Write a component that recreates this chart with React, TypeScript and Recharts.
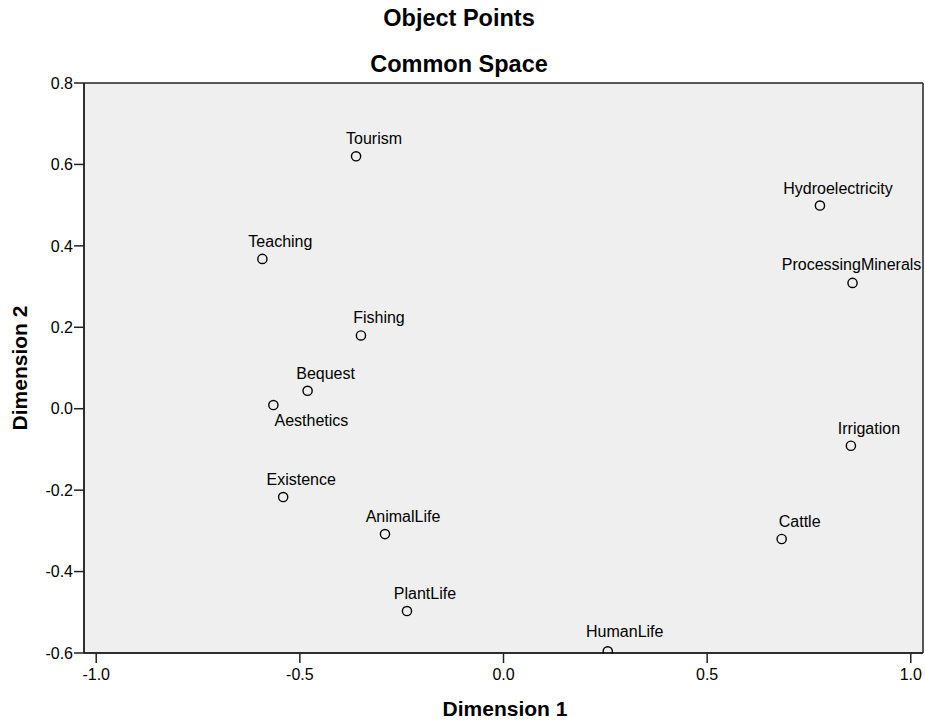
import { ScatterChart, Scatter, XAxis, YAxis, CartesianGrid } from 'recharts'

// object point coordinates in the common space
const objects = [
  'Tourism', 'Hydroelectricity', 'Teaching', 'ProcessingMinerals', 'Fishing',
  'Bequest', 'Aesthetics', 'Irrigation', 'Existence', 'AnimalLife',
  'Cattle', 'PlantLife', 'HumanLife',
]
const dimension1 = [
  -0.362, 0.777, -0.592, 0.857, -0.350,
  -0.481, -0.565, 0.853, -0.541, -0.291,
  0.683, -0.237, 0.256,
]
const dimension2 = [
  0.620, 0.499, 0.368, 0.309, 0.180,
  0.044, 0.009, -0.091, -0.217, -0.308,
  -0.320, -0.497, -0.596,
]
const xTicks = [-1.0, -0.5, 0.0, 0.5, 1.0]
const yTicks = [-0.6, -0.4, -0.2, 0.0, 0.2, 0.4, 0.6, 0.8]

const xDomain: [number, number] = [-1.03, 1.03]
const yDomain: [number, number] = [-0.6, 0.8]

// label placement relative to the marker (dx, dy of the text baseline)
const defaultLabelOffset: [number, number] = [18, -12]
const labelOffsets: Record<string, [number, number]> = {
  Aesthetics: [38, 21],
  ProcessingMinerals: [-1, -13],
  HumanLife: [17, -14],
}

const FONT = '"Liberation Sans", Arial, sans-serif'
const W = 925
const H = 724
const frame = '#222'

const data = objects.map((name, i) => ({ name, x: dimension1[i], y: dimension2[i] }))

function PointMark(props: any) {
  const { cx, cy, payload } = props
  const [dx, dy] = labelOffsets[payload.name] ?? defaultLabelOffset
  return (
    <g>
      <circle cx={cx} cy={cy} r={4.6} fill="none" stroke="#000" strokeWidth={1.4} />
      <text x={cx + dx} y={cy + dy} textAnchor="middle" fontSize={16} fontFamily={FONT} fill="#000">
        {payload.name}
      </text>
    </g>
  )
}

export default function App() {
  const tick = { fontSize: 16, fill: '#000', fontFamily: FONT }
  return (
    <div style={{ position: 'absolute', left: 0, top: 0, width: W, height: H, background: '#fff' }}>
      <ScatterChart width={W} height={H} margin={{ top: 83, right: 2, left: 0, bottom: 0 }}>
        {/* grey plot background, with the frame drawn as edge grid lines */}
        <CartesianGrid
          fill="#efefef" stroke={frame} strokeWidth={1.5}
          horizontalValues={yDomain} verticalValues={xDomain}
        />
        <XAxis
          type="number" dataKey="x" domain={xDomain} ticks={xTicks} allowDataOverflow
          tickFormatter={(v: number) => v.toFixed(1)} height={71}
          tick={tick} tickSize={10} tickMargin={6}
          axisLine={{ stroke: frame, strokeWidth: 1.5 }} tickLine={{ stroke: frame, strokeWidth: 1.5 }}
        />
        <YAxis
          type="number" dataKey="y" domain={yDomain} ticks={yTicks} allowDataOverflow
          tickFormatter={(v: number) => v.toFixed(1)} width={84}
          tick={tick} tickSize={10} tickMargin={1}
          axisLine={{ stroke: frame, strokeWidth: 1.5 }} tickLine={{ stroke: frame, strokeWidth: 1.5 }}
        />
        <Scatter data={data} shape={PointMark} isAnimationActive={false} />
      </ScatterChart>
      <svg width={W} height={H} style={{ position: 'absolute', left: 0, top: 0, pointerEvents: 'none' }}>
        <g fontFamily={FONT} fontWeight="bold" fill="#000" textAnchor="middle">
          <text x={459} y={26} fontSize={23.5}>Object Points</text>
          <text x={459} y={72} fontSize={23.5}>Common Space</text>
          <text x={505} y={716} fontSize={21}>Dimension 1</text>
          <text transform="translate(27,368) rotate(-90)" fontSize={21}>Dimension 2</text>
        </g>
      </svg>
    </div>
  )
}
